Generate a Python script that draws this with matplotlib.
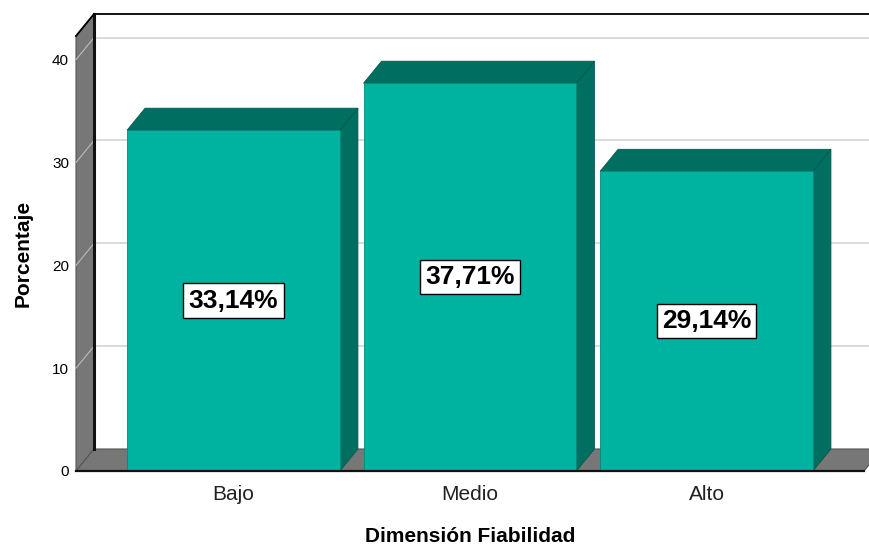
import matplotlib
matplotlib.use('Agg')
import matplotlib.pyplot as plt
from matplotlib.patches import Polygon

plt.rcParams['font.family'] = ['Liberation Sans', 'DejaVu Sans']

# Data
categories = ['Bajo', 'Medio', 'Alto']
percentages = [33.14, 37.71, 29.14]
value_labels = ['33,14%', '37,71%', '29,14%']
y_ticks = [0, 10, 20, 30, 40]

# Style
FRONT = '#00B3A1'
SHADE = '#006E60'
WALL = '#777777'
GRID = '#d4d4d4'
BAR_W = 0.9
DX, DY = 0.0761, 2.14        # depth offset of the 3D box, in data units
X0, X1 = -0.666, 2.666
YMAX = 42.3

fig = plt.figure(figsize=(8.7, 5.48), dpi=100)
ax = fig.add_axes([76 / 870, 77 / 548, 788 / 870, 435 / 548])
ax.set_xlim(X0, X1)
ax.set_ylim(0, YMAX)
for s in ax.spines.values():
    s.set_visible(False)

# back wall, left wall and floor
ax.add_patch(Polygon([(X0 + DX, DY), (X1 + DX, DY), (X1 + DX, YMAX + DY), (X0 + DX, YMAX + DY)],
                     closed=True, facecolor='white', edgecolor='none', clip_on=False, zorder=0))
ax.add_patch(Polygon([(X0, 0), (X0, YMAX), (X0 + DX, YMAX + DY), (X0 + DX, DY)],
                     closed=True, facecolor=WALL, edgecolor='#555555', lw=0.8, clip_on=False, zorder=1))
ax.add_patch(Polygon([(X0, 0), (X1, 0), (X1 + DX, DY), (X0 + DX, DY)],
                     closed=True, facecolor=WALL, edgecolor='#555555', lw=0.8, clip_on=False, zorder=1))

# gridlines on back wall and left wall
for t in y_ticks[1:]:
    ax.plot([X0 + DX, X1 + DX], [t + DY, t + DY], color=GRID, lw=1.2, clip_on=False, zorder=0.5)
    ax.plot([X0, X0 + DX], [t, t + DY], color='#bbbbbb', lw=0.8, clip_on=False, zorder=1.5)

# box edges
ax.plot([X0 + DX, X1 + DX], [YMAX + DY, YMAX + DY], color='black', lw=1.3, clip_on=False, zorder=2)
ax.plot([X0 + DX, X0 + DX], [DY, YMAX + DY], color='#111111', lw=2.2, clip_on=False, zorder=2)
ax.plot([X0, X0 + DX], [YMAX, YMAX + DY], color='black', lw=1.3, clip_on=False, zorder=2)

# 3D bars
for i, v in enumerate(percentages):
    left, right = i - BAR_W / 2, i + BAR_W / 2
    ax.add_patch(Polygon([(right, 0), (right + DX, DY), (right + DX, v + DY), (right, v)],
                         closed=True, facecolor=SHADE, edgecolor='#005a4e', lw=0.6, zorder=3))
    ax.add_patch(Polygon([(left, v), (left + DX, v + DY), (right + DX, v + DY), (right, v)],
                         closed=True, facecolor=SHADE, edgecolor='#005a4e', lw=0.6, zorder=3))
    ax.add_patch(Polygon([(left, 0), (right, 0), (right, v), (left, v)],
                         closed=True, facecolor=FRONT, edgecolor='#008a7c', lw=0.6, zorder=4))
    ax.text(i, v / 2, value_labels[i], ha='center', va='center', fontsize=19,
            fontweight='bold', color='black', zorder=6,
            bbox=dict(boxstyle='square,pad=0.2', facecolor='white', edgecolor='black', lw=1.0))

# front floor edge
ax.plot([X0, X1], [0, 0], color='#111111', lw=1.6, clip_on=False, zorder=5)

ax.set_yticks(y_ticks)
ax.set_yticklabels([str(t) for t in y_ticks], fontsize=11)
ax.set_xticks(range(len(categories)))
ax.set_xticklabels(categories, fontsize=15, color='#222222')
ax.tick_params(axis='y', length=0, pad=5)
ax.tick_params(axis='x', length=0, pad=10)

ax.set_xlabel('Dimensión Fiabilidad', fontsize=15, fontweight='bold', labelpad=17)
ax.set_ylabel('Porcentaje', fontsize=15, fontweight='bold', labelpad=14)

fig.savefig('out.png', dpi=100)
